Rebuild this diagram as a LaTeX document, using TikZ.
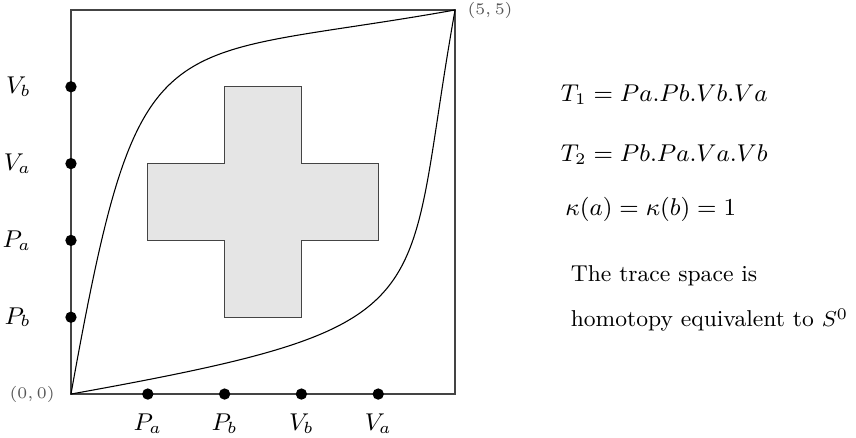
\documentclass[tikz,border=0pt]{standalone}
\usepackage{tikz,amsmath}
\usetikzlibrary{positioning}
\definecolor{frame}{HTML}{444444}
\definecolor{corner}{HTML}{555555}

\begin{document}
\begin{tikzpicture}[x=1cm, y=1cm,
    dot/.style={circle, fill=black, inner sep=0pt, minimum size=4.2pt},
    axlabel/.style={inner sep=1pt, font=\fontsize{9pt}{11pt}\selectfont},
    cornerlabel/.style={text=corner, font=\fontsize{6pt}{8pt}\selectfont, inner sep=1pt},
    forbidden/.style={fill=gray!20, draw=frame, line width=0.4pt},
    eqn/.style={anchor=base west, inner sep=0pt, font=\fontsize{9pt}{11pt}\selectfont},
    txt/.style={anchor=base west, inner sep=0pt, font=\fontsize{8.5pt}{10.5pt}\selectfont}]
  \useasboundingbox (-0.924,-0.56) rectangle (10.22,5.13);
  % square
  \coordinate (O) at (0,0);
  \coordinate (E) at (5,5);
  \draw[frame, line width=0.5pt] (O) rectangle (E);
  % forbidden region
  \draw[forbidden] (1,2) -- (2,2) -- (2,1) -- (3,1) -- (3,2) -- (4,2) -- (4,3)
    -- (3,3) -- (3,4) -- (2,4) -- (2,3) -- (1,3) -- cycle;
  % traces
  \draw[line width=0.4pt] (O) .. controls (0.9,5) and (1.1,4.3) .. (E);
  \draw[line width=0.4pt] (O) .. controls (5,0.9) and (4.3,1.1) .. (E);
  % events
  \node[dot] (xpa) at (1,0) {};
  \node[dot] (xpb) at (2,0) {};
  \node[dot] (xvb) at (3,0) {};
  \node[dot] (xva) at (4,0) {};
  \node[dot] (ypb) at (0,1) {};
  \node[dot] (ypa) at (0,2) {};
  \node[dot] (yva) at (0,3) {};
  \node[dot] (yvb) at (0,4) {};
  \node[axlabel, below=0.14cm of xpa] {$P_a$};
  \node[axlabel, below=0.14cm of xpb] {$P_b$};
  \node[axlabel, below=0.14cm of xvb] {$V_b$};
  \node[axlabel, below=0.14cm of xva] {$V_a$};
  \node[axlabel, left=0.4cm of ypb] {$P_b$};
  \node[axlabel, left=0.4cm of ypa] {$P_a$};
  \node[axlabel, left=0.4cm of yva] {$V_a$};
  \node[axlabel, left=0.4cm of yvb] {$V_b$};
  \node[cornerlabel, anchor=east] (lo) at (-0.17,0) {$(0,0)$};
  \node[cornerlabel, anchor=west] (hi) at (5.12,5) {$(5,5)$};
  % text
  \node[eqn] (t1) at (6.37,3.807) {$T_1 = Pa.Pb.Vb.Va$};
  \node[eqn] (t2) at (6.37,3.025) {$T_2 = Pb.Pa.Va.Vb$};
  \node[eqn] (kap) at (6.43,2.33) {$\kappa(a) = \kappa(b) = 1$};
  \node[txt] (res1) at (6.5,1.46) {The trace space is};
  \node[txt] (res2) at (6.5,0.875) {homotopy equivalent to $S^0$};
\end{tikzpicture}
\end{document}
